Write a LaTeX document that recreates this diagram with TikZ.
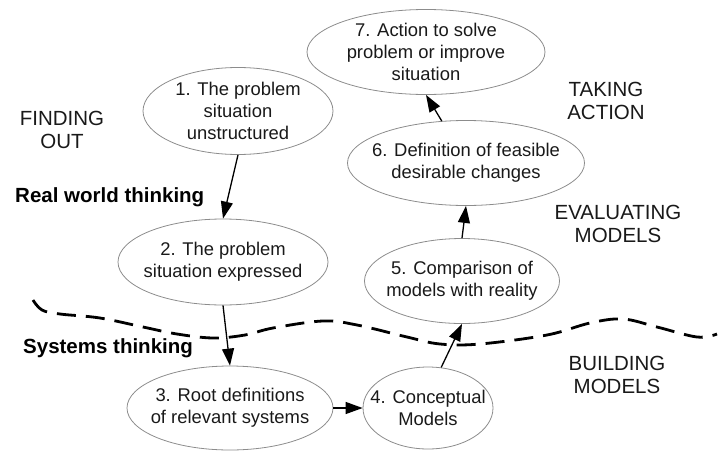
\documentclass[tikz,border=0pt]{standalone}
\usepackage{fontspec}
\setmainfont{Liberation Sans}
\usetikzlibrary{arrows.meta,shapes.geometric}
\tikzset{
  stage/.style    ={ellipse, draw=black!45, line width=.8pt, inner sep=0pt},
  stagetext/.style={align=center, inner sep=0pt, text=black!90,
    font=\fontsize{18.4pt}{21.8pt}\selectfont},
  phase/.style    ={align=center, inner sep=0pt, text=black!90,
    font=\fontsize{20.5pt}{23pt}\selectfont},
  thinking/.style ={anchor=west, inner sep=0pt,
    font=\bfseries\fontsize{20.5pt}{23pt}\selectfont},
  flow/.style     ={-{Triangle[length=17pt,width=12pt]}, line width=1.3pt},
  boundary/.style ={line width=2.8pt, dash pattern=on 19pt off 10pt}}

\begin{document}
\begin{tikzpicture}[x=1pt, y=-1pt]
\useasboundingbox (0,0) rectangle (725,450);
% the seven stages
\node[stage, minimum width=190pt, minimum height=87pt,
  label={[stagetext]center:{1. The problem\\situation\\unstructured}}] (e1) at (238,111) {};
\node[stage, minimum width=210pt, minimum height=86pt,
  label={[stagetext]center:{2. The problem\\situation expressed}}] (e2) at (223,262) {};
\node[stage, minimum width=206pt, minimum height=84pt,
  label={[stagetext]center:{3. Root definitions\\of relevant systems}}] (e3) at (230,408) {};
\node[stage, minimum width=130pt, minimum height=82pt,
  label={[stagetext]center:{4. Conceptual\\Models}}] (e4) at (428,408) {};
\node[stage, minimum width=195pt, minimum height=85pt,
  label={[stagetext]center:{5. Comparison of\\models with reality}}] (e5) at (462,281) {};
\node[stage, minimum width=237pt, minimum height=85pt,
  label={[stagetext]center:{6. Definition of feasible\\desirable changes}}] (e6) at (466,163) {};
\node[stage, minimum width=238pt, minimum height=85pt,
  label={[stagetext]center:{7. Action to solve\\problem or improve\\situation}}] (e7) at (426,52) {};

% phases
\node[phase] (finding)    at (62,130)  {FINDING\\OUT};
\node[phase] (taking)     at (606,101) {TAKING\\ACTION};
\node[phase] (evaluating) at (618,224) {EVALUATING\\MODELS};
\node[phase] (building)   at (617,375) {BUILDING\\MODELS};
\node[thinking] (realworld) at (15,197) {Real world thinking};
\node[thinking] (systems)   at (23,348) {Systems thinking};

% real world / systems boundary
\draw[boundary] plot[smooth, tension=.6] coordinates {
  (33,300) (42,310) (60,314) (100,318) (143,327) (177,334) (213,338)
  (245,335) (273,328) (323,321) (357,325) (407,337) (440,344) (480,344)
  (547,335) (590,323) (623,319) (657,327) (697,337) (717,334)};

% the cycle
\foreach \from/\to in {e1.south/e2.north, e2.south/e3.north, e3.east/e4.west,
  e4.72/e5.south, e5.north/e6.south, e6.120/e7.south}
  \draw[flow] (\from) -- (\to);
\end{tikzpicture}
\end{document}
